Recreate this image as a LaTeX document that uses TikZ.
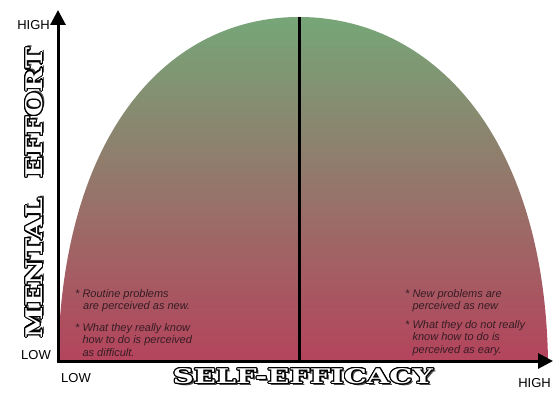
\documentclass[tikz,border=0pt]{standalone}
\usepackage{fontspec}
\setmainfont{Liberation Sans}
\newfontfamily\slabfont{DejaVu Serif}
\usepackage[copies]{contour}
\usetikzlibrary{arrows.meta}
\definecolor{domegreen}{RGB}{118,166,120}
\definecolor{domered}{RGB}{180,68,92}
\definecolor{notetext}{RGB}{55,28,36}
\contourlength{0.6pt}
\newcommand{\slabtitle}[1]{{\slabfont\bfseries\leavevmode\rlap{\kern1.1pt\raisebox{-1.1pt}{\textcolor{black!70}{#1}}}\contour{black}{\textcolor{white}{#1}}}}
\tikzset{
  axisline/.style={line width=3pt, -{Triangle[length=15pt,width=15pt]}},
  tick/.style={font=\fontsize{13}{14}\selectfont, inner sep=0pt},
  note/.style={font=\fontsize{11}{12.8}\selectfont\itshape, text=notetext, align=left, inner sep=0pt, anchor=north west},
  slab/.style={font=\fontsize{14}{15}\selectfont, inner sep=0pt}
}
\begin{document}
\begin{tikzpicture}[x=1pt,y=1pt]
\useasboundingbox (0,0) rectangle (553,393);
% dome
\coordinate (dl) at (58,33);
\coordinate (dt) at (299,376);
\coordinate (dr) at (548,33);
\shade[top color=domegreen, bottom color=domered]
  (dl) .. controls (62,263) and (170,376) .. (dt)
       .. controls (428,376) and (544,263) .. (dr) -- cycle;
% divider
\coordinate (vtop) at (299,376);
\coordinate (vbot) at (299,32);
\draw[line width=3pt] (vtop) -- (vbot);
% axes
\coordinate (o) at (58,32);
\coordinate (ytip) at (58,383);
\coordinate (xtip) at (553,32);
\draw[axisline] ([yshift=-1.5pt]o) -- (ytip);
\draw[axisline] ([xshift=-1.5pt]o) -- (xtip);
% tick labels
\node[tick, anchor=east] (yhigh) at (50,368) {HIGH};
\node[tick, anchor=east] (ylow) at (51,38) {LOW};
\node[tick, anchor=west] (xlow) at (61,15) {LOW};
\node[tick, anchor=east] (xhigh) at (551,10) {HIGH};
% axis titles
\node[slab] (xtitle) at (303,16) {\resizebox{260pt}{15pt}{\slabtitle{SELF-EFFICACY}}};
\node[slab, rotate=90] (ytitle) at (35,200) {\resizebox{290pt}{17pt}{\slabtitle{MENTAL\ \ EFFORT}}};
% notes left
\node[note] (l1) at (75,104) {* Routine problems\\\hspace{8pt}are perceived as new.};
\node[note] (l2) at (75,70) {* What they really know\\\hphantom{* }how to do is perceived\\\hphantom{* }as difficult.};
% notes right
\node[note] (r1) at (405,104) {* New problems are\\\hphantom{* }perceived as new};
\node[note] (r2) at (405,73) {* What they do not really\\\hphantom{* }know how to do is\\\hphantom{* }perceived as eary.};
\end{tikzpicture}
\end{document}
